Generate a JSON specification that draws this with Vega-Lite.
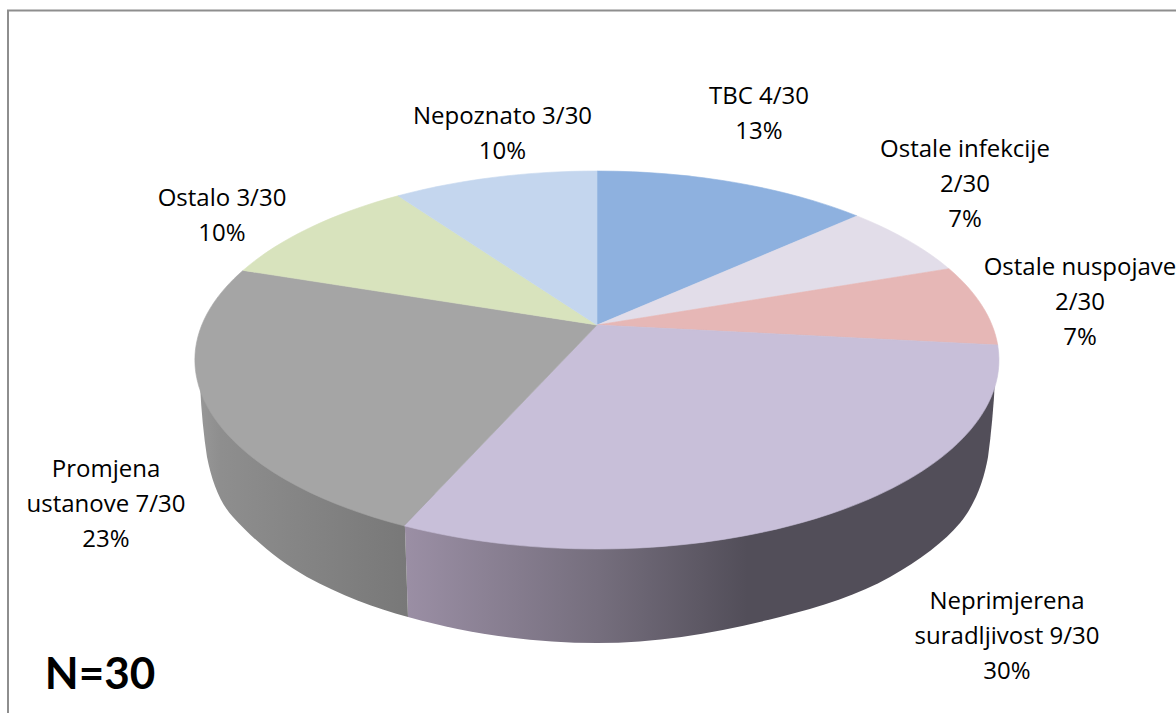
{"$schema":"https://vega.github.io/schema/vega-lite/v6.json","width":1176,"height":713,"padding":0,"autosize":"none","background":"white","config":{"view":{"stroke":null}},
"data":{"values":[
{"kategorija":"TBC","broj":4,"ukupno":30,"udio":13,"oznaka":"TBC 4/30\n13%"},
{"kategorija":"Ostale infekcije","broj":2,"ukupno":30,"udio":7,"oznaka":"Ostale infekcije\n2/30\n7%"},
{"kategorija":"Ostale nuspojave","broj":2,"ukupno":30,"udio":7,"oznaka":"Ostale nuspojave\n2/30\n7%"},
{"kategorija":"Neprimjerena suradljivost","broj":9,"ukupno":30,"udio":30,"oznaka":"Neprimjerena\nsuradljivost 9/30\n30%"},
{"kategorija":"Promjena ustanove","broj":7,"ukupno":30,"udio":23,"oznaka":"Promjena\nustanove 7/30\n23%"},
{"kategorija":"Ostalo","broj":3,"ukupno":30,"udio":10,"oznaka":"Ostalo 3/30\n10%"},
{"kategorija":"Nepoznato","broj":3,"ukupno":30,"udio":10,"oznaka":"Nepoznato 3/30\n10%"}
]},
"layer":[
{"data":{"values":[{"element":"okvir"}]},"mark":{"type":"point","filled":false,"opacity":1,"stroke":"#8e8e8e","strokeWidth":2,"shape":"M-580,357L-580,-346L588,-346"},"encoding":{"size":{"value":4}}},
{"transform":[{"filter":"datum.kategorija==='Neprimjerena suradljivost'"}],"mark":{"type":"point","filled":true,"opacity":1,"strokeWidth":0,"shape":"M407,23.5Q405,63.5,400,100.5C396,123.5,387,148.5,372,166.5C357,184.5,332,203.5,302,220.5C272,237.5,232,250.5,192,260.5C132,275.5,72,286.5,9,286.5C-58,286.5,-123,276.5,-180,260.5L-184,143.5Z","fill":{"gradient":"linear","x1":0,"y1":0,"x2":1,"y2":0,"stops":[{"offset":0,"color":"#9b8fa5"},{"offset":0.33,"color":"#756e7d"},{"offset":0.58,"color":"#524e59"},{"offset":1,"color":"#524e59"}]}},"encoding":{"size":{"value":4}}},
{"transform":[{"filter":"datum.kategorija==='Promjena ustanove'"}],"mark":{"type":"point","filled":true,"opacity":1,"strokeWidth":0,"shape":"M-184,143.5L-180,260.5C-213,251.5,-248,238.5,-281,220.5C-308,205.5,-333,184.5,-355,160.5C-368,146.5,-376,125.5,-381,100.5Q-386,68.5,-388,28.5Z","fill":{"gradient":"linear","x1":0,"y1":0,"x2":1,"y2":0,"stops":[{"offset":0,"color":"#979797"},{"offset":0.1,"color":"#8e8e8e"},{"offset":1,"color":"#787878"}]}},"encoding":{"size":{"value":4}}},
{"mark":{"type":"point","filled":true,"opacity":1,"strokeWidth":0.6},"encoding":{"size":{"value":4},
"color":{"field":"kategorija","type":"nominal","legend":null,"scale":{"domain":["TBC","Ostale infekcije","Ostale nuspojave","Neprimjerena suradljivost","Promjena ustanove","Ostalo","Nepoznato"],"range":["#8eb1df","#e2dde9","#e6b7b6","#c8bfd9","#a5a5a5","#d8e3bd","#c4d6ee"]}},
"stroke":{"field":"kategorija","type":"nominal","legend":null,"scale":{"domain":["TBC","Ostale infekcije","Ostale nuspojave","Neprimjerena suradljivost","Promjena ustanove","Ostalo","Nepoznato"],"range":["#8eb1df","#e2dde9","#e6b7b6","#c8bfd9","#a5a5a5","#d8e3bd","#c4d6ee"]}},
"shape":{"field":"kategorija","type":"nominal","legend":null,"scale":{"domain":["TBC","Ostale infekcije","Ostale nuspojave","Neprimjerena suradljivost","Promjena ustanove","Ostalo","Nepoznato"],"range":[
"M9,-31.5L9,-185.5A402,189,0,0,1,269,-140.6Z",
"M9,-31.5L269,-140.6A402,189,0,0,1,361,-87.8Z",
"M9,-31.5L361,-87.8A402,189,0,0,1,409.7,-11.5Z",
"M9,-31.5L409.7,-11.5A402,189,0,0,1,-184,169.3Z",
"M9,-31.5L-184,169.3A402,189,0,0,1,-345,-86.1Z",
"M9,-31.5L-345,-86.1A402,189,0,0,1,-190,-160.7Z",
"M9,-31.5L-190,-160.7A402,189,0,0,1,9,-185.5Z"]}}}},
{"transform":[{"filter":"datum.kategorija==='TBC'"}],"mark":{"type":"text","font":"Open Sans","fontSize":24,"lineHeight":35,"lineBreak":"\n","align":"center","baseline":"middle","color":"#000000","dx":171,"dy":-260},"encoding":{"text":{"field":"oznaka"}}},
{"transform":[{"filter":"datum.kategorija==='Ostale infekcije'"}],"mark":{"type":"text","font":"Open Sans","fontSize":24,"lineHeight":35,"lineBreak":"\n","align":"center","baseline":"middle","color":"#000000","dx":377,"dy":-206.5},"encoding":{"text":{"field":"oznaka"}}},
{"transform":[{"filter":"datum.kategorija==='Ostale nuspojave'"}],"mark":{"type":"text","font":"Open Sans","fontSize":24,"lineHeight":35,"lineBreak":"\n","align":"center","baseline":"middle","color":"#000000","dx":492,"dy":-88.5},"encoding":{"text":{"field":"oznaka"}}},
{"transform":[{"filter":"datum.kategorija==='Neprimjerena suradljivost'"}],"mark":{"type":"text","font":"Open Sans","fontSize":24,"lineHeight":35,"lineBreak":"\n","align":"center","baseline":"middle","color":"#000000","dx":419,"dy":245.5},"encoding":{"text":{"field":"oznaka"}}},
{"transform":[{"filter":"datum.kategorija==='Promjena ustanove'"}],"mark":{"type":"text","font":"Open Sans","fontSize":24,"lineHeight":35,"lineBreak":"\n","align":"center","baseline":"middle","color":"#000000","dx":-482,"dy":113.5},"encoding":{"text":{"field":"oznaka"}}},
{"transform":[{"filter":"datum.kategorija==='Ostalo'"}],"mark":{"type":"text","font":"Open Sans","fontSize":24,"lineHeight":35,"lineBreak":"\n","align":"center","baseline":"middle","color":"#000000","dx":-366,"dy":-158},"encoding":{"text":{"field":"oznaka"}}},
{"transform":[{"filter":"datum.kategorija==='Nepoznato'"}],"mark":{"type":"text","font":"Open Sans","fontSize":24,"lineHeight":35,"lineBreak":"\n","align":"center","baseline":"middle","color":"#000000","dx":-85.5,"dy":-240},"encoding":{"text":{"field":"oznaka"}}},
{"data":{"values":[{"oznaka":"N=30"}]},"mark":{"type":"text","font":"Lato","fontSize":44,"fontWeight":"bold","align":"center","baseline":"middle","color":"#000000","dx":-488,"dy":319},"encoding":{"text":{"field":"oznaka"}}}
]}
